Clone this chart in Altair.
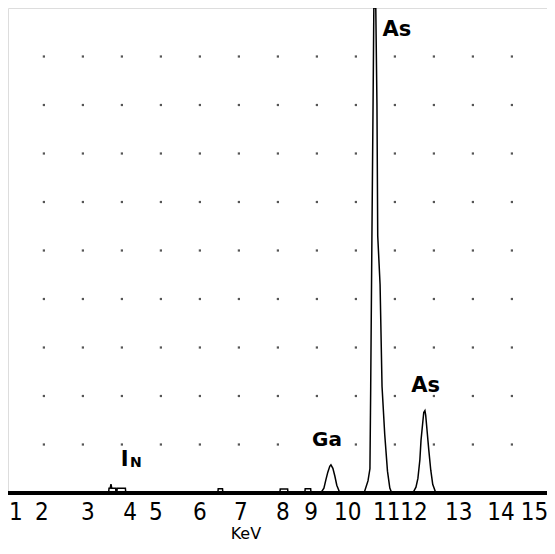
import altair as alt
import pandas as pd

# Spectrum outline (energy in keV, counts in % of full scale)
energy = [1.08, 3.66, 3.67, 3.70, 3.72, 3.74, 3.84, 3.85, 3.87, 3.88, 4.09, 4.10,
          6.46, 6.47, 6.58, 6.59,
          8.05, 8.06, 8.25, 8.26,
          8.69, 8.70, 8.84, 8.85,
          9.10, 9.18, 9.23, 9.28, 9.33, 9.36, 9.41, 9.46, 9.51, 9.59,
          10.21, 10.31, 10.36, 10.38, 10.41, 10.44, 10.46, 10.51, 10.54, 10.56,
          10.62, 10.67, 10.74, 10.81, 10.87, 10.92,
          11.46, 11.54, 11.59, 11.64, 11.67, 11.72, 11.74, 11.77, 11.79, 11.82,
          11.87, 11.92, 11.97, 12.05,
          14.90]
counts = [0, 0, 1.0, 1.0, 1.8, 1.0, 1.0, 0, 0, 1.0, 1.0, 0,
          0, 0.9, 0.9, 0,
          0, 0.8, 0.8, 0,
          0, 0.9, 0.9, 0,
          0, 1.0, 2.7, 4.3, 5.5, 5.8, 5.1, 3.5, 1.6, 0,
          0, 2.5, 5.0, 22, 52, 80, 100, 100, 80, 53,
          43, 22, 12, 4.5, 1.0, 0,
          0, 1.2, 3.0, 6.8, 10.9, 15.0, 16.6, 17.0, 16.0, 13.3,
          8.8, 4.7, 1.8, 0,
          0]

grid_e = [2, 3, 4, 5, 6, 7, 8, 9, 10, 11, 12, 13, 14]
grid_c = [10, 20, 30, 40, 50, 60, 70, 80, 90]

tick_labels = ["1", "2", "3", "4", "5", "6", "7", "8", "9", "10", "11", "12", "13", "14", "15"]
tick_pos = [1.28, 1.95, 3.13, 4.21, 4.87, 6.0, 7.05, 8.13, 8.85, 9.79, 10.79, 11.49, 12.64, 13.72, 14.58]

peak_labels = ["As", "As", "Ga", "I", "N"]
peak_e = [11.05, 11.79, 9.26, 4.07, 4.36]
peak_c = [95.5, 22.0, 10.9, 6.8, 6.2]
peak_fs = [21, 21, 20, 21, 14]

x_title = "KeV"
x_title_pos = 7.18

W, H = 539, 485
FONT = "Liberation Sans Narrow, DejaVu Sans Condensed, DejaVu Sans"

xs = alt.Scale(domain=[1.08, 14.90], nice=False, zero=False)
ys = alt.Scale(domain=[0, 100], nice=False, zero=False)

spec = pd.DataFrame({"e": energy, "c": counts, "i": list(range(len(energy)))})
grid = pd.DataFrame([{"e": e, "c": c} for e in grid_e for c in grid_c])
ticks = pd.DataFrame({"pos": tick_pos, "label": tick_labels})
peaks = pd.DataFrame({"e": peak_e, "c": peak_c, "t": peak_labels, "fs": peak_fs})
title_df = pd.DataFrame({"e": [x_title_pos], "t": [x_title]})
base_df = pd.DataFrame({"c": [0]})

dots = alt.Chart(grid).mark_square(size=5, color="#444", opacity=0.9).encode(
    x=alt.X("e:Q", scale=xs, axis=None),
    y=alt.Y("c:Q", scale=ys, axis=None),
)

line = alt.Chart(spec).mark_line(color="black", strokeWidth=1.5).encode(
    x=alt.X("e:Q", scale=xs, axis=None),
    y=alt.Y("c:Q", scale=ys, axis=None),
    order="i:Q",
)

baseline = alt.Chart(base_df).mark_rule(color="black", strokeWidth=4).encode(
    y=alt.Y("c:Q", scale=ys, axis=None),
)

plabels = alt.Chart(peaks).mark_text(
    font="DejaVu Sans", fontWeight="bold", baseline="middle", align="center", color="black"
).encode(
    x=alt.X("e:Q", scale=xs, axis=None),
    y=alt.Y("c:Q", scale=ys, axis=None),
    text="t:N",
    size=alt.Size("fs:Q", scale=None, legend=None),
)

tlabels = alt.Chart(ticks).mark_text(
    font=FONT, fontSize=24, baseline="middle", align="center", color="black"
).encode(
    x=alt.X("pos:Q", scale=xs, axis=None),
    y=alt.value(H + 20),
    text="label:N",
)

xtitle = alt.Chart(title_df).mark_text(
    font="DejaVu Sans", fontSize=16, baseline="middle", align="center", color="black"
).encode(
    x=alt.X("e:Q", scale=xs, axis=None),
    y=alt.value(H + 41),
    text="t:N",
)

chart = alt.layer(dots, line, baseline, plabels, tlabels, xtitle).properties(
    width=W, height=H,
    autosize=alt.AutoSizeParams(type="none"),
    padding={"left": 0, "top": 0, "right": 0, "bottom": 49},
).configure_view(stroke="black", strokeWidth=1.5).configure(background="white")

chart.save("out.html", embed_options={"renderer": "svg", "actions": False})
